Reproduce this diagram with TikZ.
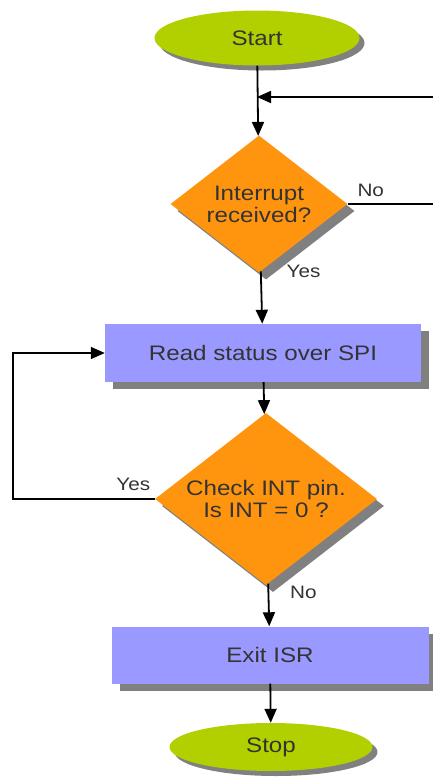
\documentclass[tikz,border=0pt]{standalone}
\usepackage{fontspec}
\setmainfont{Liberation Sans}[FakeStretch=1.15]
\usetikzlibrary{arrows.meta,shapes.geometric,shadows}

\definecolor{startgreen}{RGB}{178,208,0}
\definecolor{askorange}{RGB}{255,149,14}
\definecolor{stepblue}{RGB}{153,153,255}
\definecolor{textgray}{RGB}{51,51,51}

\begin{document}
\begin{tikzpicture}[x=1pt,y=1pt]
\tikzstyle{terminal} = [ellipse, fill=startgreen, text=textgray, inner sep=0pt,
font=\fontsize{21}{22}\selectfont,
drop shadow={shadow xshift=5pt, shadow yshift=-5pt, fill=black!50, opacity=1}]
\tikzstyle{decision} = [diamond, fill=askorange, text=textgray, inner sep=0pt,
shape aspect=1.3, align=center, font=\fontsize{21}{22}\selectfont,
drop shadow={shadow xshift=7pt, shadow yshift=-7pt, fill=black!50, opacity=1}]
\tikzstyle{block} = [rectangle, fill=stepblue, text=textgray,
font=\fontsize{21}{22}\selectfont,
drop shadow={shadow xshift=8pt, shadow yshift=-7pt, fill=black!50, opacity=1}]
\tikzstyle{line} = [draw, line width=1.8pt, -{Triangle[length=14pt,width=12pt]}]
\tikzstyle{tag} = [text=textgray, font=\fontsize{18}{20}\selectfont, inner sep=0pt]

\useasboundingbox (0,0) rectangle (433,-780);

\node [terminal, minimum width=205pt, minimum height=55pt] (start) at (257,-38) {Start};
\node [decision, minimum width=177pt, minimum height=137pt] (received) at (259,-204) {Interrupt\\received?};
\node [block, minimum width=316pt, minimum height=58pt] (read) at (263,-353) {Read status over SPI};
\node [decision, minimum width=222pt, minimum height=172pt] (intpin) at (266,-499) {Check INT pin.\\Is INT = 0 ?};
\node [block, minimum width=317pt, minimum height=57pt] (exit) at (270,-655) {Exit ISR};
\node [terminal, minimum width=203pt, minimum height=48pt] (stop) at (271,-747) {Stop};

% the "No" branch leaves on the right and comes back above the decision
\coordinate (noout) at (433,-204);
\coordinate (noback) at (433,-97);
\coordinate (rejoin) at (257,-97);
\coordinate (loopleft) at (13,-353);

\tikzstyle{every path}=[line]
\path (start) -- (received);
\path (noback) -- (rejoin);
\path [-, line width=1.4pt] (received.east) -- node[tag, pos=0.27, above=7pt] (noone) {No} (noout);
\path (received) -- node[tag, at start, anchor=west, xshift=25pt] (yesone) {Yes} (read);
\path (read) -- (intpin);
\path [line width=1.4pt] (intpin.west) -- node[tag, at start, anchor=south east, xshift=-4pt, yshift=8pt] (yestwo) {Yes}
  (intpin.west -| loopleft) |- (read.west);
\path (intpin) -- node[tag, at start, anchor=north west, xshift=21pt, yshift=-2pt] (notwo) {No} (exit);
\path (exit) -- (stop);
\end{tikzpicture}
\end{document}
